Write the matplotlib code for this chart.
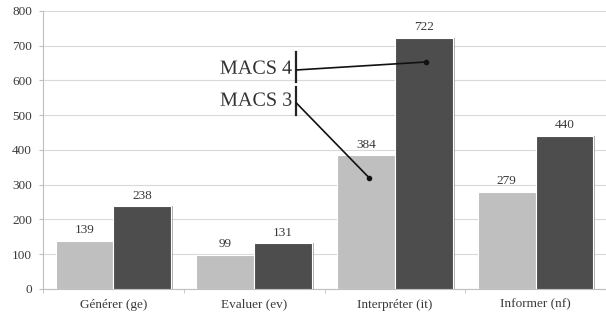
import numpy as np
import matplotlib
matplotlib.use('Agg')
import matplotlib.pyplot as plt
import matplotlib.patheffects as pe

categories = ['Générer (ge)', 'Evaluer (ev)', 'Interpréter (it)', 'Informer (nf)']
macs3 = [139, 99, 384, 279]
macs4 = [238, 131, 722, 440]
yticks = [0, 100, 200, 300, 400, 500, 600, 700, 800]

plt.rcParams['font.family'] = ['Liberation Serif', 'DejaVu Serif']

fig = plt.figure(figsize=(6.06, 3.2), dpi=100)
ax = fig.add_axes([0.071, 0.097, 0.929, 0.869])

x = np.arange(len(categories))
w = 0.41
shadow = [pe.SimplePatchShadow(offset=(1.5, 0), shadow_rgbFace='#9a9a9a', alpha=0.8), pe.Normal()]
b3 = ax.bar(x - w / 2, macs3, w, color='#bfbfbf', edgecolor='white', linewidth=0.8, zorder=3)
b4 = ax.bar(x + w / 2, macs4, w, color='#4d4d4d', edgecolor='white', linewidth=0.8, zorder=3)
for b in list(b3) + list(b4):
    b.set_path_effects(shadow)

for xi, v in zip(x - w / 2, macs3):
    ax.text(xi, v + 13, str(v), ha='center', va='bottom', fontsize=9.5, color='#3a3a3a')
for xi, v in zip(x + w / 2, macs4):
    ax.text(xi, v + 13, str(v), ha='center', va='bottom', fontsize=9.5, color='#3a3a3a')

ax.set_xlim(-0.5, 3.5)
ax.set_ylim(0, 800)
ax.set_yticks(yticks)
ax.set_yticklabels([str(t) for t in yticks], fontsize=9.5, color='#3a3a3a')
ax.set_xticks(x)
ax.set_xticklabels(categories, fontsize=9.5, color='#3a3a3a')
ax.set_xticks(np.arange(-0.5, 4, 1), minor=True)
ax.tick_params(axis='x', which='major', length=0, pad=7)
ax.tick_params(axis='x', which='minor', length=3, color='#bfbfbf')
ax.tick_params(axis='y', length=3, color='#bfbfbf', pad=5)
ax.grid(axis='y', color='#d9d9d9', linewidth=0.8, zorder=0)
for s in ['top', 'right']:
    ax.spines[s].set_visible(False)
for s in ['left', 'bottom']:
    ax.spines[s].set_color('#bfbfbf')

# callouts
anchor_x = 1.30
txt_fx = [pe.SimpleLineShadow(offset=(1, -1), alpha=0.3), pe.Normal()]
ax.text(anchor_x - 0.03, 632, 'MACS 4', ha='right', va='center', fontsize=14.5,
        color='#333333', path_effects=txt_fx)
ax.text(anchor_x - 0.03, 540, 'MACS 3', ha='right', va='center', fontsize=14.5,
        color='#333333', path_effects=txt_fx)
ax.plot([anchor_x, anchor_x], [596, 682], color='#222222', lw=1.6, zorder=5)
ax.plot([anchor_x, anchor_x], [501, 581], color='#222222', lw=1.6, zorder=5)
ax.plot([anchor_x, 2.223], [630, 653], color='#111111', lw=1.2, zorder=5)
ax.plot([anchor_x, 1.819], [535, 319], color='#111111', lw=1.2, zorder=5)
ax.plot([2.223, 1.819], [653, 319], 'o', color='#111111', ms=3, zorder=6)

fig.savefig('out.png', dpi=100)
